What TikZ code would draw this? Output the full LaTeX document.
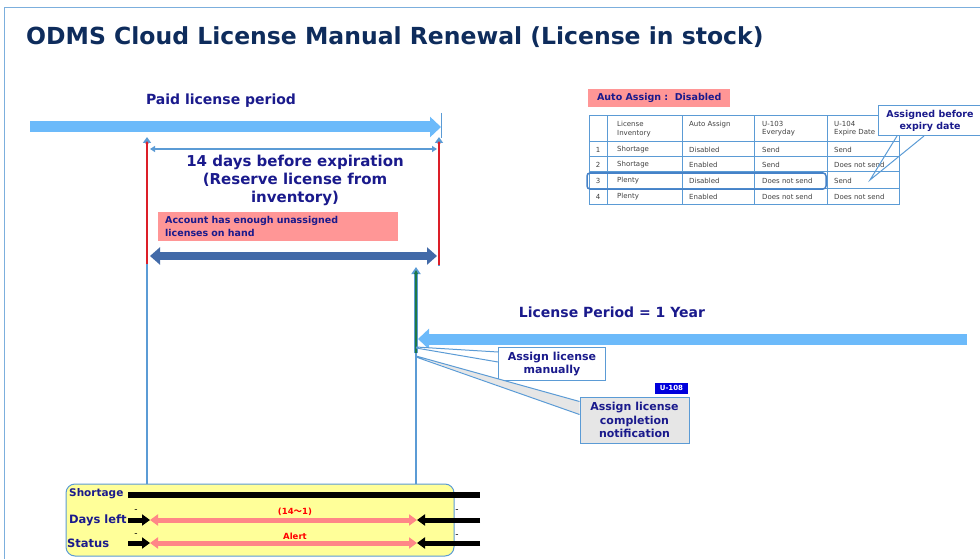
\documentclass[tikz,border=0pt]{standalone}
\usepackage{fontspec}
\setmainfont{DejaVu Sans}
\newfontfamily\cjk{Noto Sans CJK SC}
\usetikzlibrary{arrows.meta,positioning,calc}

\definecolor{navytext}{RGB}{26,26,140}
\definecolor{titleblue}{RGB}{14,44,92}
\definecolor{skyblue}{RGB}{108,186,250}
\definecolor{lineblue}{RGB}{91,155,213}
\definecolor{deepblue}{RGB}{66,106,168}
\definecolor{hlblue}{RGB}{70,130,200}
\definecolor{pinkbox}{RGB}{255,150,150}
\definecolor{pinkarrow}{RGB}{255,135,135}
\definecolor{notepaper}{RGB}{255,255,153}
\definecolor{darkgreen}{RGB}{30,120,70}
\definecolor{redline}{RGB}{220,30,40}
\definecolor{tagblue}{RGB}{0,0,220}
\definecolor{calloutgray}{RGB}{230,230,230}
\definecolor{cellgray}{RGB}{64,64,64}

\tikzset{
  bigtext/.style={font=\bfseries\fontsize{14}{17}\selectfont, text=navytext},
  fatarrow/.style={draw=skyblue, line width=11pt, -{Triangle[length=11pt,width=20pt]}},
  vline/.style={draw=lineblue, line width=2.5pt},
  redmark/.style={draw=redline, line width=1.3pt},
  cell/.style={anchor=west, inner sep=0pt, font=\fontsize{7}{8.6}\selectfont, text=cellgray, align=left},
  callbox/.style={draw=lineblue, line width=1pt, font=\bfseries\fontsize{11}{13.5}\selectfont, text=navytext, align=center, inner sep=3pt},
  rowlabel/.style={anchor=west, inner sep=0pt, font=\bfseries\fontsize{11}{13}\selectfont, text=navytext},
  blackarrow/.style={line width=5pt, -{Triangle[length=8pt,width=11pt]}},
  pinkbar/.style={draw=pinkarrow, line width=5pt, {Triangle[length=8pt,width=11pt]}-{Triangle[length=8pt,width=11pt]}}
}

\begin{document}
\begin{tikzpicture}[x=1pt,y=-1pt]
\useasboundingbox (0,0) rectangle (980,559);

% Frame and title
\draw[lineblue!80, line width=1pt] (4,559) -- (4,8) -- (980,8);
\node[anchor=west, inner sep=0pt, text=titleblue, font=\bfseries\fontsize{23.5}{26}\selectfont] (title) at (26,37) {ODMS Cloud License Manual Renewal (License in stock)};

% Paid license period
\node[bigtext] (paid) at (221,101) {Paid license period};
\draw[fatarrow] (30,127) -- (441,127);
\coordinate (paid end top) at (441,113);
\coordinate (paid end bot) at (441,138);
\draw[lineblue, line width=1pt] (paid end top) -- (paid end bot);

% 14 day window
\coordinate (left top) at (147,137);
\coordinate (left bot) at (147,484);
\coordinate (right top) at (439,137);
\coordinate (right bot) at (439,266);
\draw[vline, -{Triangle[length=6pt,width=8pt]}] (left bot) -- (left top);
\draw[redmark, -{Triangle[length=3pt,width=3pt]}] (147,264) -- (147,141);
\draw[vline, -{Triangle[length=6pt,width=8pt]}] (right bot) -- (right top);
\draw[redmark, -{Triangle[length=3pt,width=3pt]}] (439,265) -- (439,141);
\draw[lineblue, line width=2pt, {Triangle[length=5pt,width=6pt]}-{Triangle[length=5pt,width=6pt]}] (150,149) -- (437,149);
\node[bigtext, font=\bfseries\fontsize{15}{18}\selectfont, align=center] (window) at (295,180) {14 days before expiration\\(Reserve license from\\inventory)};
\node[fill=pinkbox, anchor=north west, minimum width=240pt, minimum height=29pt, text width=226pt, inner xsep=7pt, align=left, text=navytext, font=\bfseries\fontsize{9.5}{13}\selectfont] (stock) at (158,212) {Account has enough unassigned\\licenses on hand};
\draw[deepblue, line width=8pt, {Triangle[length=10pt,width=17pt]}-{Triangle[length=10pt,width=17pt]}] (150,256) -- (437,256);

% Manual assignment
\coordinate (assign top) at (416,267);
\coordinate (assign bot) at (416,353);
\coordinate (assign foot) at (416,484);
\draw[lineblue, line width=3.5pt, -{Triangle[length=7pt,width=9pt]}] (assign bot) -- (assign top);
\draw[darkgreen, line width=1.8pt, -{Triangle[length=4pt,width=4pt]}] (assign bot) -- ($(assign top)+(0,3)$);
\draw[vline] (assign bot) -- (assign foot);

% License period
\node[bigtext] (year) at (612,312) {License Period = 1 Year};
\draw[fatarrow] (967,339) -- (418,339);

% Callouts
\node[callbox, fill=white, minimum width=107pt, minimum height=33pt] (manual) at (552,364) {Assign license\\manually};
\fill[white] (416,347) -- ($(manual.north west)+(0,5)$) -- ($(manual.north west)+(0,15)$) -- cycle;
\draw[lineblue, line width=1pt] (416,347) -- ($(manual.north west)+(0,5)$) (416,348) -- ($(manual.north west)+(0,15)$);
\node[callbox, fill=calloutgray, minimum width=109pt, minimum height=46pt] (notify) at (634.5,420) {Assign license\\completion\\notification};
\fill[calloutgray] (416,356) -- ($(notify.north west)+(0,5)$) -- ($(notify.north west)+(0,18)$) -- cycle;
\draw[lineblue, line width=1pt] (416,356) -- ($(notify.north west)+(0,5)$) (416,357) -- ($(notify.north west)+(0,18)$);
\node[fill=tagblue, text=white, font=\bfseries\fontsize{7}{8}\selectfont, minimum width=33pt, minimum height=11pt, inner sep=0pt] (tag) at (671.5,388) {U-108};

% Auto assign table
\node[fill=pinkbox, anchor=north west, minimum width=142pt, minimum height=18pt, inner xsep=8pt, text=navytext, font=\bfseries\fontsize{9.5}{11}\selectfont] (mode) at (588,89) {Auto Assign :\ \ Disabled};
\draw[lineblue, line width=1pt] (589,116) rectangle (899,204);
\draw[lineblue, line width=1pt] (589,142) -- (899,142) (589,157) -- (899,157) (589,172) -- (899,172) (589,188) -- (899,188);
\draw[lineblue, line width=1pt] (607,116) -- (607,204) (682,116) -- (682,204) (754,116) -- (754,204) (827,116) -- (827,204);
\node[cell, anchor=north west] (h2) at (617,121) {License\\Inventory};
\node[cell, anchor=north west] (h3) at (689,121) {Auto Assign};
\node[cell, anchor=north west] (h4) at (762,121) {U-103\\Everyday};
\node[cell, anchor=north west] (h5) at (834,121) {U-104\\Expire Date};
\node[cell, anchor=center] (n1) at (598,149.5) {1};
\node[cell] (a1) at (617,149.5) {Shortage};
\node[cell] (b1) at (689,149.5) {Disabled};
\node[cell] (c1) at (762,149.5) {Send};
\node[cell] (d1) at (834,149.5) {Send};
\node[cell, anchor=center] (n2) at (598,165) {2};
\node[cell] (a2) at (617,165) {Shortage};
\node[cell] (b2) at (689,165) {Enabled};
\node[cell] (c2) at (762,165) {Send};
\node[cell] (d2) at (834,165) {Does not send};
\node[cell, anchor=center] (n3) at (598,180.5) {3};
\node[cell] (a3) at (617,180.5) {Plenty};
\node[cell] (b3) at (689,180.5) {Disabled};
\node[cell] (c3) at (762,180.5) {Does not send};
\node[cell] (d3) at (834,180.5) {Send};
\node[cell, anchor=center] (n4) at (598,196.5) {4};
\node[cell] (a4) at (617,196.5) {Plenty};
\node[cell] (b4) at (689,196.5) {Enabled};
\node[cell] (c4) at (762,196.5) {Does not send};
\node[cell] (d4) at (834,196.5) {Does not send};
\draw[hlblue, line width=1.5pt, rounded corners=3pt] (587,173) rectangle (826,189);

% Assigned before expiry callout
\node[callbox, fill=white, anchor=north west, minimum width=103pt, minimum height=30pt, font=\bfseries\fontsize{9.5}{12}\selectfont, inner sep=1pt] (before) at (878,105) {Assigned before\\expiry date};
\coordinate (before tip) at (870,180);
\draw[lineblue, line width=1pt] ($(before.south west)+(19,0)$) -- (before tip) -- ($(before.south west)+(46,0)$);

% Status panel
\draw[fill=notepaper, draw=lineblue, line width=1pt, rounded corners=9pt] (66,484) rectangle (454,556);
\node[rowlabel, font=\bfseries\fontsize{10.5}{12}\selectfont] (shortage) at (69,494) {Shortage};
\node[rowlabel, font=\bfseries\fontsize{11.5}{13}\selectfont] (daysleft) at (69,520) {Days left};
\node[rowlabel, font=\bfseries\fontsize{11.5}{13}\selectfont] (status) at (67,543) {Status};
\draw[line width=6pt] (128,495) -- (480,495);
% days left row
\draw[blackarrow] (128,520) -- (150,520);
\draw[pinkbar] (150,520) -- (417,520);
\draw[blackarrow] (480,520) -- (417,520);
\node[font=\fontsize{9}{10}\selectfont, inner sep=0pt] (dl left) at (136,511) {-};
\node[font=\fontsize{9}{10}\selectfont, inner sep=0pt] (dl right) at (457,511) {-};
\node[text=red, font=\bfseries\fontsize{8.5}{10}\selectfont, inner sep=0pt] (range) at (295,512) {(14{\cjk ～}1)};
% status row
\draw[blackarrow] (128,543) -- (150,543);
\draw[pinkbar] (150,543) -- (417,543);
\draw[blackarrow] (480,543) -- (417,543);
\node[font=\fontsize{9}{10}\selectfont, inner sep=0pt] (st left) at (136,535) {-};
\node[font=\fontsize{9}{10}\selectfont, inner sep=0pt] (st right) at (457,536) {-};
\node[text=red, font=\bfseries\fontsize{8.5}{10}\selectfont, inner sep=0pt] (alert) at (295,536) {Alert};
\end{tikzpicture}
\end{document}
